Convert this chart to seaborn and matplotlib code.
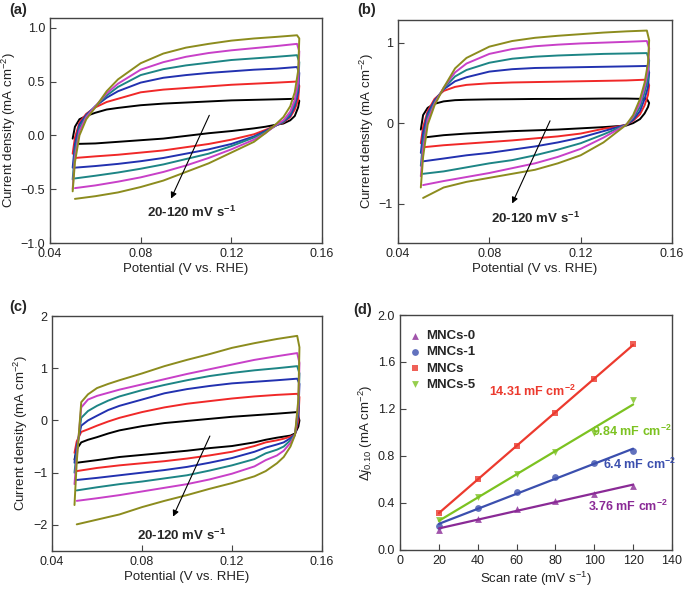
import numpy as np
import pandas as pd
import matplotlib
matplotlib.use('Agg')
import matplotlib.pyplot as plt
import seaborn as sns

sns.set_style('ticks')
plt.rcParams['font.family'] = ['Liberation Sans', 'DejaVu Sans']
plt.rcParams['mathtext.fontset'] = 'custom'
plt.rcParams['mathtext.rm'] = 'Liberation Sans'
plt.rcParams['mathtext.it'] = 'Liberation Sans:italic'
plt.rcParams['mathtext.bf'] = 'Liberation Sans:bold'
plt.rcParams['mathtext.default'] = 'regular'
plt.rcParams['axes.unicode_minus'] = True

# ---------------- data ----------------
rates = [20, 40, 60, 80, 100, 120]
cv_colors = ['#000000', '#f02828', '#2231b0', '#1d8585', '#c840c8', '#8c8c1e']

# potentials of the anodic (upper) and cathodic (lower) branches
E_up = [0.050, 0.051, 0.053, 0.056, 0.060, 0.065, 0.070, 0.080, 0.090, 0.100, 0.110, 0.120, 0.130, 0.140, 0.149]
E_down = [0.150, 0.1495, 0.148, 0.146, 0.143, 0.140, 0.135, 0.130, 0.120, 0.110, 0.100, 0.090, 0.080, 0.070, 0.060, 0.051]

# panel (a)
a_up_20 = [-0.03, 0.08, 0.15, 0.18, 0.21, 0.24, 0.255, 0.28, 0.295, 0.305, 0.315, 0.325, 0.33, 0.335, 0.34]
a_up_40 = [-0.17, -0.02, 0.12, 0.20, 0.26, 0.31, 0.34, 0.40, 0.425, 0.44, 0.455, 0.47, 0.48, 0.49, 0.50]
a_up_60 = [-0.30, -0.08, 0.10, 0.19, 0.27, 0.35, 0.41, 0.49, 0.535, 0.56, 0.58, 0.595, 0.61, 0.62, 0.635]
a_up_80 = [-0.41, -0.14, 0.07, 0.18, 0.27, 0.37, 0.45, 0.56, 0.615, 0.65, 0.675, 0.70, 0.715, 0.73, 0.745]
a_up_100 = [-0.50, -0.20, 0.04, 0.17, 0.27, 0.39, 0.48, 0.61, 0.68, 0.73, 0.765, 0.79, 0.81, 0.83, 0.85]
a_up_120 = [-0.52, -0.25, 0.0, 0.15, 0.26, 0.41, 0.52, 0.67, 0.76, 0.815, 0.85, 0.88, 0.90, 0.915, 0.93]
a_dn_20 = [0.32, 0.26, 0.18, 0.14, 0.11, 0.10, 0.08, 0.065, 0.04, 0.02, -0.005, -0.03, -0.045, -0.06, -0.075, -0.08]
a_dn_40 = [0.46, 0.33, 0.24, 0.17, 0.12, 0.095, 0.05, 0.01, -0.04, -0.08, -0.11, -0.14, -0.16, -0.18, -0.195, -0.21]
a_dn_60 = [0.58, 0.40, 0.27, 0.18, 0.125, 0.095, 0.04, -0.01, -0.08, -0.13, -0.17, -0.21, -0.24, -0.265, -0.285, -0.30]
a_dn_80 = [0.68, 0.45, 0.30, 0.20, 0.13, 0.095, 0.03, -0.02, -0.10, -0.17, -0.22, -0.27, -0.31, -0.345, -0.375, -0.40]
a_dn_100 = [0.78, 0.50, 0.33, 0.22, 0.14, 0.10, 0.02, -0.04, -0.13, -0.21, -0.28, -0.34, -0.39, -0.43, -0.465, -0.49]
a_dn_120 = [0.90, 0.60, 0.40, 0.27, 0.17, 0.11, 0.02, -0.06, -0.16, -0.26, -0.34, -0.42, -0.48, -0.53, -0.565, -0.59]

# panel (b)
b_up_20 = [-0.08, 0.10, 0.19, 0.24, 0.27, 0.285, 0.29, 0.295, 0.297, 0.30, 0.30, 0.302, 0.305, 0.305, 0.30]
b_up_40 = [-0.25, -0.05, 0.15, 0.30, 0.40, 0.45, 0.475, 0.495, 0.505, 0.51, 0.515, 0.52, 0.525, 0.53, 0.54]
b_up_60 = [-0.37, -0.12, 0.12, 0.28, 0.42, 0.52, 0.57, 0.64, 0.67, 0.685, 0.69, 0.695, 0.70, 0.705, 0.71]
b_up_80 = [-0.53, -0.22, 0.08, 0.26, 0.43, 0.58, 0.66, 0.75, 0.80, 0.825, 0.84, 0.85, 0.86, 0.865, 0.87]
b_up_100 = [-0.66, -0.32, 0.04, 0.24, 0.44, 0.63, 0.74, 0.86, 0.92, 0.955, 0.975, 0.99, 1.0, 1.01, 1.02]
b_up_120 = [-0.80, -0.42, -0.02, 0.22, 0.44, 0.68, 0.81, 0.95, 1.02, 1.06, 1.085, 1.105, 1.125, 1.14, 1.15]
b_dn_20 = [0.25, 0.20, 0.12, 0.05, 0.0, -0.03, -0.04, -0.05, -0.065, -0.08, -0.09, -0.10, -0.115, -0.13, -0.15, -0.18]
b_dn_40 = [0.47, 0.35, 0.22, 0.11, 0.03, -0.02, -0.05, -0.07, -0.13, -0.165, -0.19, -0.215, -0.235, -0.255, -0.275, -0.30]
b_dn_60 = [0.63, 0.45, 0.30, 0.15, 0.04, -0.02, -0.06, -0.10, -0.18, -0.24, -0.29, -0.33, -0.37, -0.40, -0.44, -0.475]
b_dn_80 = [0.78, 0.55, 0.38, 0.20, 0.06, -0.02, -0.08, -0.14, -0.25, -0.33, -0.40, -0.46, -0.50, -0.55, -0.60, -0.63]
b_dn_100 = [0.93, 0.65, 0.45, 0.25, 0.08, -0.02, -0.10, -0.18, -0.32, -0.42, -0.50, -0.56, -0.62, -0.67, -0.72, -0.77]
b_dn_120 = [1.03, 0.75, 0.50, 0.30, 0.10, -0.02, -0.13, -0.24, -0.40, -0.50, -0.58, -0.63, -0.68, -0.73, -0.80, -0.93]

# panel (c)
c_up_20 = [-0.75, -0.55, -0.42, -0.37, -0.32, -0.25, -0.19, -0.11, -0.05, -0.01, 0.03, 0.07, 0.10, 0.13, 0.16]
c_up_40 = [-0.62, -0.40, -0.22, -0.17, -0.10, -0.02, 0.05, 0.16, 0.25, 0.32, 0.37, 0.42, 0.46, 0.49, 0.51]
c_up_60 = [-0.81, -0.50, -0.10, 0.0, 0.09, 0.20, 0.28, 0.40, 0.52, 0.60, 0.66, 0.71, 0.74, 0.77, 0.80]
c_up_80 = [-1.00, -0.60, 0.05, 0.18, 0.28, 0.38, 0.46, 0.58, 0.68, 0.77, 0.85, 0.91, 0.96, 1.00, 1.04]
c_up_100 = [-1.22, -0.70, 0.25, 0.40, 0.47, 0.53, 0.59, 0.69, 0.79, 0.89, 0.98, 1.07, 1.16, 1.23, 1.29]
c_up_120 = [-1.62, -0.80, 0.35, 0.50, 0.62, 0.70, 0.77, 0.90, 1.04, 1.16, 1.27, 1.39, 1.48, 1.56, 1.62]
c_dn_20 = [0.0, -0.12, -0.25, -0.29, -0.31, -0.33, -0.37, -0.42, -0.49, -0.53, -0.58, -0.62, -0.66, -0.70, -0.76, -0.81]
c_dn_40 = [0.45, 0.0, -0.27, -0.31, -0.35, -0.38, -0.42, -0.49, -0.60, -0.67, -0.73, -0.78, -0.82, -0.86, -0.91, -0.97]
c_dn_60 = [0.70, 0.10, -0.27, -0.34, -0.42, -0.46, -0.52, -0.60, -0.72, -0.81, -0.89, -0.95, -1.00, -1.05, -1.10, -1.14]
c_dn_80 = [0.90, 0.20, -0.27, -0.38, -0.50, -0.56, -0.63, -0.74, -0.86, -0.96, -1.05, -1.11, -1.17, -1.22, -1.28, -1.34]
c_dn_100 = [1.10, 0.30, -0.28, -0.43, -0.58, -0.67, -0.76, -0.88, -1.02, -1.13, -1.22, -1.29, -1.36, -1.43, -1.49, -1.54]
c_dn_120 = [1.40, 0.40, -0.28, -0.50, -0.70, -0.82, -0.97, -1.07, -1.20, -1.31, -1.43, -1.54, -1.66, -1.80, -1.90, -1.99]

# panel (d)
scan_rate = [20, 40, 60, 80, 100, 120]
mncs0 = [0.17, 0.26, 0.345, 0.42, 0.48, 0.545]
mncs1 = [0.204, 0.355, 0.494, 0.618, 0.738, 0.845]
mncs = [0.318, 0.60, 0.888, 1.163, 1.455, 1.753]
mncs5 = [0.255, 0.454, 0.644, 0.831, 0.999, 1.277]
d_names = ['MNCs-0', 'MNCs-1', 'MNCs', 'MNCs-5']
d_colors = ['#8a2a96', '#3b4fae', '#ec3a2e', '#7cc221']
d_markers = ['^', 'o', 's', 'v']
d_labels = ['3.76 mF cm$^{-2}$', '6.4 mF cm$^{-2}$', '14.31 mF cm$^{-2}$', '9.84 mF cm$^{-2}$']


def cv_frame(ups, dns):
    rows = []
    for r, u, d in zip(rates, ups, dns):
        k = 0
        for e, j in zip(E_up, u):
            rows.append((r, k, e, j)); k += 1
        for e, j in zip(E_down, d):
            rows.append((r, k, e, j)); k += 1
    return pd.DataFrame(rows, columns=['rate', 'order', 'E', 'j'])


fig = plt.figure(figsize=(6.85, 5.91), dpi=100)
ax_a = fig.add_axes([0.073, 0.5888, 0.397, 0.3807])
ax_b = fig.add_axes([0.581, 0.5888, 0.400, 0.3772])
ax_c = fig.add_axes([0.0759, 0.0677, 0.3941, 0.3976])
ax_d = fig.add_axes([0.584, 0.0694, 0.397, 0.3976])

spine_col = '#444444'
tick_fs = 9
lab_fs = 9.5


def style(ax):
    for s in ax.spines.values():
        s.set_color(spine_col)
        s.set_linewidth(1.0)
    ax.tick_params(direction='in', length=4, width=0.8, colors=spine_col,
                   labelcolor='#222222', labelsize=tick_fs, top=False, right=False)


cv_sets = [
    (ax_a, [a_up_20, a_up_40, a_up_60, a_up_80, a_up_100, a_up_120],
     [a_dn_20, a_dn_40, a_dn_60, a_dn_80, a_dn_100, a_dn_120],
     (-1.0, 1.09), [-1.0, -0.5, 0.0, 0.5, 1.0], '{:.1f}',
     (0.0827, -0.72), (0.1108, 0.21), (0.0929, -0.61)),
    (ax_b, [b_up_20, b_up_40, b_up_60, b_up_80, b_up_100, b_up_120],
     [b_dn_20, b_dn_40, b_dn_60, b_dn_80, b_dn_100, b_dn_120],
     (-1.49, 1.28), [-1, 0, 1], '{:.0f}',
     (0.0807, -1.18), (0.1071, 0.06), (0.0895, -1.03)),
    (ax_c, [c_up_20, c_up_40, c_up_60, c_up_80, c_up_100, c_up_120],
     [c_dn_20, c_dn_40, c_dn_60, c_dn_80, c_dn_100, c_dn_120],
     (-2.5, 2.0), [-2, -1, 0, 1, 2], '{:.0f}',
     (0.0778, -2.2), (0.1107, -0.25), (0.0933, -1.89)),
]

for ax, ups, dns, ylim, yt, fmt, txt, tail, tip in cv_sets:
    df = cv_frame(ups, dns)
    sns.lineplot(data=df, x='E', y='j', hue='rate', palette=cv_colors, sort=False,
                 estimator=None, legend=False, lw=1.4, ax=ax)
    ax.set_xlim(0.04, 0.16)
    ax.set_ylim(*ylim)
    ax.set_xticks([0.04, 0.08, 0.12, 0.16])
    ax.set_xticklabels(['0.04', '0.08', '0.12', '0.16'])
    ax.set_yticks(yt)
    ax.set_yticklabels([fmt.format(v).replace('-', '\u2212') for v in yt])
    ax.set_xlabel('Potential (V vs. RHE)', fontsize=lab_fs, color='#222222', labelpad=2)
    ax.set_ylabel('Current density (mA cm$^{-2}$)', fontsize=lab_fs, color='#222222', labelpad=2)
    style(ax)
    ax.annotate('', xy=tip, xytext=tail,
                arrowprops=dict(arrowstyle='-|>', color='black', lw=0.8, mutation_scale=9))
    ax.text(txt[0], txt[1], '20-120 mV s$^{-1}$', fontsize=9.5, fontweight='bold', va='center')

# panel (d)
series = [mncs0, mncs1, mncs, mncs5]
for name, vals, col, mk in zip(d_names, series, d_colors, d_markers):
    sns.regplot(x=scan_rate, y=vals, ax=ax_d, ci=None, color=col, marker=mk,
                scatter_kws=dict(s=24, linewidths=0), line_kws=dict(lw=1.6), label=name)
ax_d.set_xlim(0, 140)
ax_d.set_ylim(0, 2.0)
ax_d.set_xticks(np.arange(0, 141, 20))
ax_d.set_yticks([0.0, 0.4, 0.8, 1.2, 1.6, 2.0])
ax_d.set_yticklabels(['0.0', '0.4', '0.8', '1.2', '1.6', '2.0'])
ax_d.set_xlabel('Scan rate (mV s$^{-1}$)', fontsize=lab_fs, color='#222222', labelpad=2)
ax_d.set_ylabel(r'$\Delta\mathit{j}_{\mathit{0.10}}$ (mA cm$^{-2}$)', fontsize=lab_fs, color='#222222', labelpad=2)
style(ax_d)
handles, labels = ax_d.get_legend_handles_labels()
leg = ax_d.legend(handles[:4], labels[:4], loc='upper left', bbox_to_anchor=(0.01, 0.97),
                  frameon=False, prop=dict(weight='bold', size=9.5), handlelength=0.7,
                  handletextpad=0.5, labelspacing=0.3, borderaxespad=0.2)
ax_d.text(46, 1.35, d_labels[2], color=d_colors[2], fontsize=9, fontweight='bold', va='center')
ax_d.text(98.8, 1.007, d_labels[3], color=d_colors[3], fontsize=9, fontweight='bold', va='center')
ax_d.text(104.5, 0.73, d_labels[1], color=d_colors[1], fontsize=9, fontweight='bold', va='center')
ax_d.text(97, 0.375, d_labels[0], color=d_colors[0], fontsize=9, fontweight='bold', va='center')

# panel letters
for lx, ly, s in [(9, 3, '(a)'), (357, 3, '(b)'), (9, 300, '(c)'), (353, 303, '(d)')]:
    fig.text(lx / 685, 1 - ly / 591, s, fontsize=10.5, fontweight='bold', va='top', ha='left')

fig.savefig('out.png', dpi=100)
